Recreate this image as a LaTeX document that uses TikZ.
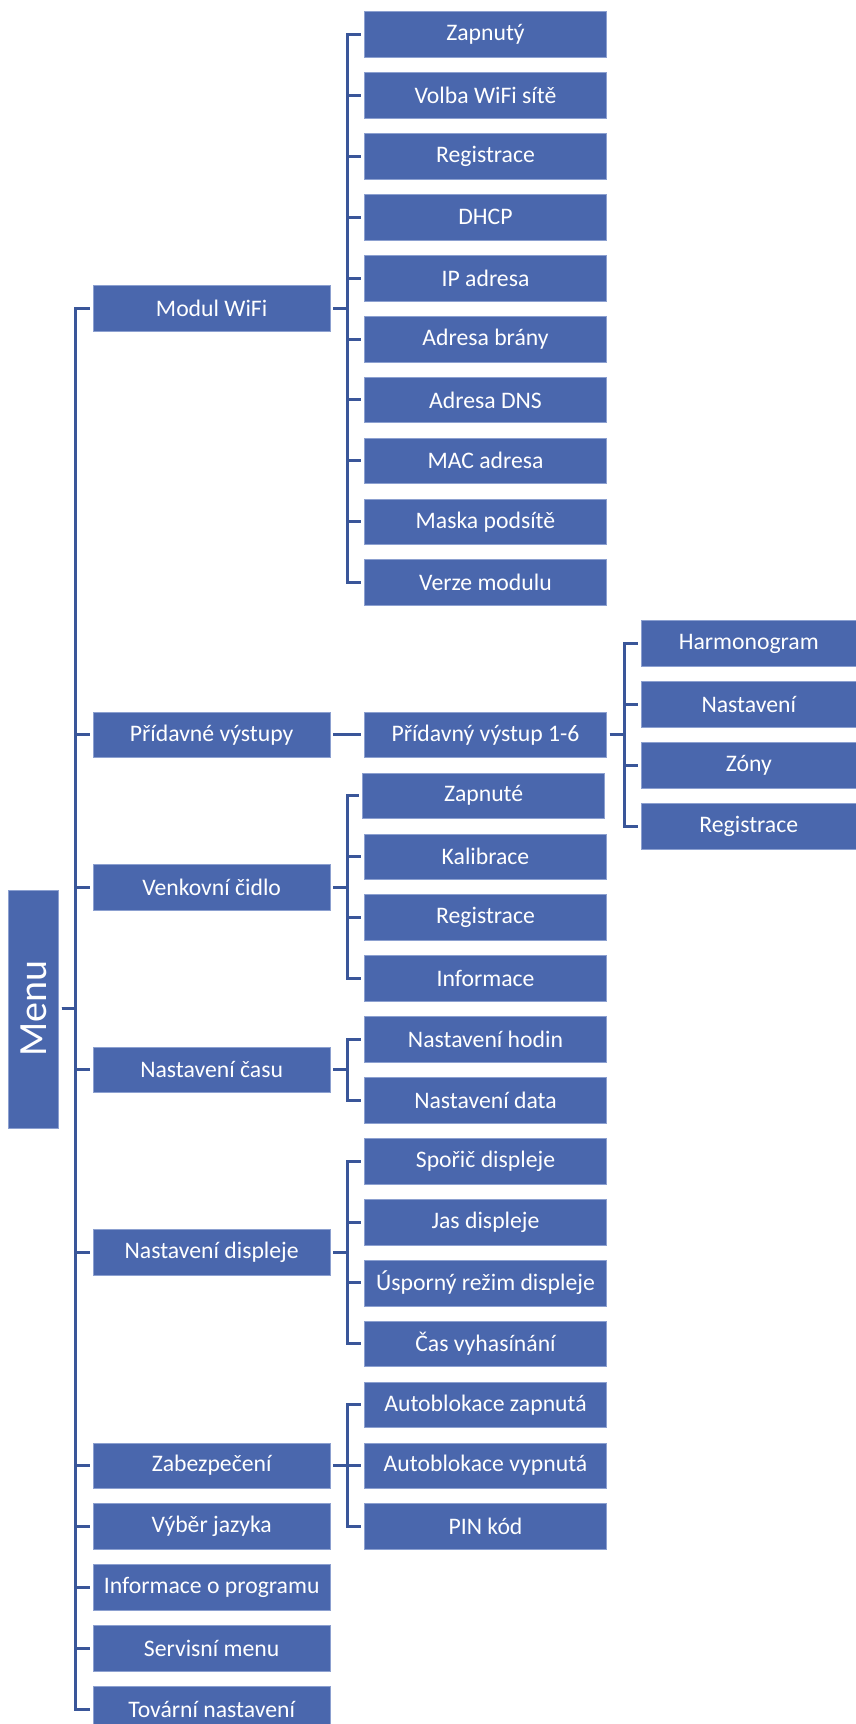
\documentclass[tikz,border=0pt]{standalone}
\usepackage{fontspec}
\setmainfont{Carlito}
\definecolor{boxblue}{RGB}{74,103,173}
\definecolor{boxedge}{RGB}{140,160,208}
\definecolor{lineblue}{RGB}{58,86,153}
\newcommand\tconn[3]{\draw[conn] ([xshift=3pt]#1) -- (#1 -| #3) |- ([xshift=-3pt]#2.west);}
\begin{document}
\begin{tikzpicture}[x=1pt, y=-60.9pt,
  box/.style={fill=boxblue, draw=boxedge, line width=0.6pt, text=white, inner sep=0pt, minimum height=45.7pt, font=\fontsize{23.7}{28}\selectfont},
  lvlA/.style={box, minimum width=236.7pt},
  lvlB/.style={box, minimum width=242pt},
  lvlC/.style={box, minimum width=214.5pt},
  conn/.style={draw=lineblue, line width=3pt}]
\useasboundingbox (0,-0.5665) rectangle (856,27.7422);

\coordinate (busA) at (75,0);
\coordinate (busB) at (347.5,0);
\coordinate (busC) at (624,0);

\node[box, minimum width=238pt, minimum height=49.8pt, rotate=90, font=\fontsize{40}{48}\selectfont] (menu) at (33.6,16) {Menu};

\node[lvlA] (wifi) at (211.65,4.5) {Modul WiFi};
\node[lvlA] (prid) at (211.65,11.5) {Přídavné výstupy};
\node[lvlA] (venk) at (211.65,14) {Venkovní čidlo};
\node[lvlA] (cas) at (211.65,17) {Nastavení času};
\node[lvlA] (disp) at (211.65,20) {Nastavení displeje};
\node[lvlA] (zab) at (211.65,23.5) {Zabezpečení};
\node[lvlA] (jaz) at (211.65,24.5) {Výběr jazyka};
\node[lvlA] (info) at (211.65,25.5) {Informace o programu};
\node[lvlA] (serv) at (211.65,26.5) {Servisní menu};
\node[lvlA] (tov) at (211.65,27.5) {Tovární nastavení};

\node[lvlB] (w0) at (485.5,0) {Zapnutý};
\node[lvlB] (w1) at (485.5,1) {Volba WiFi sítě};
\node[lvlB] (w2) at (485.5,2) {Registrace};
\node[lvlB] (w3) at (485.5,3) {DHCP};
\node[lvlB] (w4) at (485.5,4) {IP adresa};
\node[lvlB] (w5) at (485.5,5) {Adresa brány};
\node[lvlB] (w6) at (485.5,6) {Adresa DNS};
\node[lvlB] (w7) at (485.5,7) {MAC adresa};
\node[lvlB] (w8) at (485.5,8) {Maska podsítě};
\node[lvlB] (w9) at (485.5,9) {Verze modulu};

\node[lvlB] (pv) at (485.5,11.5) {Přídavný výstup 1-6};

\node[lvlB] (v1) at (483.6,12.5) {Zapnuté};
\node[lvlB] (v2) at (485.5,13.5) {Kalibrace};
\node[lvlB] (v3) at (485.5,14.5) {Registrace};
\node[lvlB] (v4) at (485.5,15.5) {Informace};

\node[lvlB] (c1) at (485.5,16.5) {Nastavení hodin};
\node[lvlB] (c2) at (485.5,17.5) {Nastavení data};

\node[lvlB] (d1) at (485.5,18.5) {Spořič displeje};
\node[lvlB] (d2) at (485.5,19.5) {Jas displeje};
\node[lvlB] (d3) at (485.5,20.5) {Úsporný režim displeje};
\node[lvlB] (d4) at (485.5,21.5) {Čas vyhasínání};

\node[lvlB] (z1) at (485.5,22.5) {Autoblokace zapnutá};
\node[lvlB] (z2) at (485.5,23.5) {Autoblokace vypnutá};
\node[lvlB] (z3) at (485.5,24.5) {PIN kód};

\node[lvlC] (p1) at (748.75,10) {Harmonogram};
\node[lvlC] (p2) at (748.75,11) {Nastavení};
\node[lvlC] (p3) at (748.75,12) {Zóny};
\node[lvlC] (p4) at (748.75,13) {Registrace};

% Menu to level A
\foreach \c in {wifi,prid,venk,cas,disp,zab,jaz,info,serv,tov}
  {\tconn{menu.south}{\c}{busA}}
% Modul WiFi
\foreach \c in {w0,w1,w2,w3,w4,w5,w6,w7,w8,w9}
  {\tconn{wifi.east}{\c}{busB}}
% Přídavné výstupy
\draw[conn] ([xshift=3pt]prid.east) -- ([xshift=-3pt]pv.west);
\foreach \c in {p1,p2,p3,p4}
  {\tconn{pv.east}{\c}{busC}}
% Venkovní čidlo
\foreach \c in {v1,v2,v3,v4}
  {\tconn{venk.east}{\c}{busB}}
% Nastavení času
\foreach \c in {c1,c2}
  {\tconn{cas.east}{\c}{busB}}
% Nastavení displeje
\foreach \c in {d1,d2,d3,d4}
  {\tconn{disp.east}{\c}{busB}}
% Zabezpečení
\foreach \c in {z1,z2,z3}
  {\tconn{zab.east}{\c}{busB}}
\end{tikzpicture}
\end{document}
